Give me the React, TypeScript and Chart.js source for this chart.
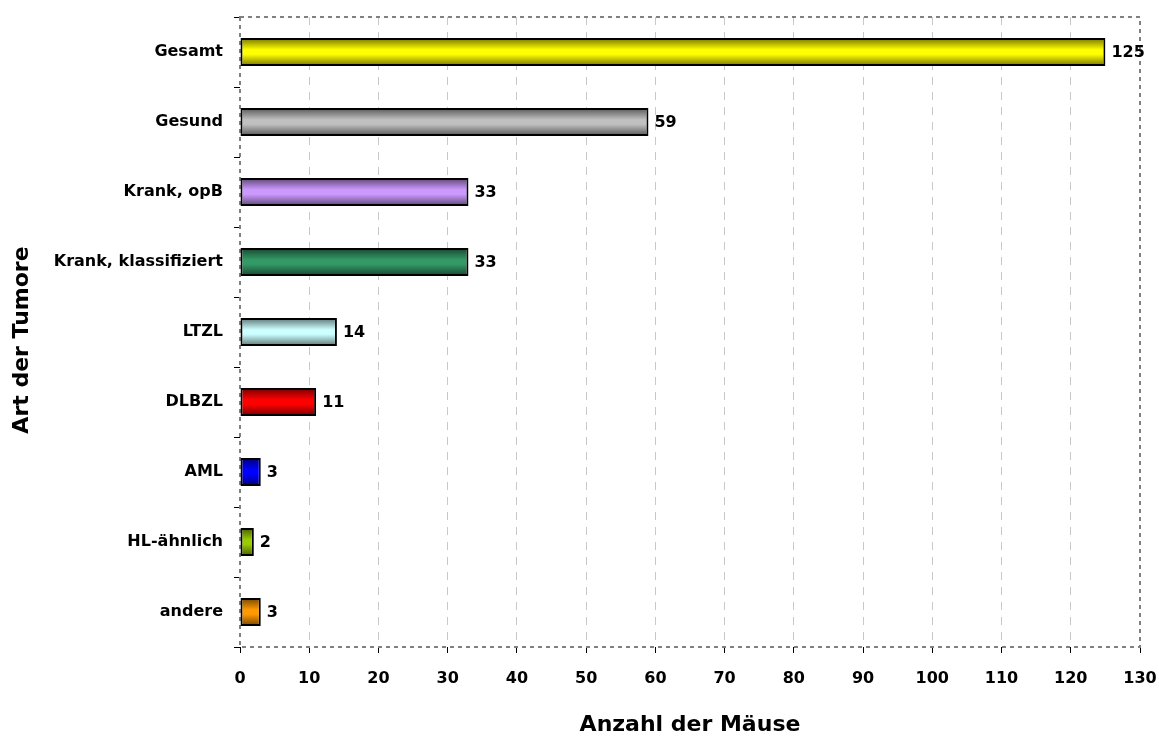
import React, { useEffect, useRef } from "react";
import { Chart, registerables } from "chart.js";

Chart.register(...registerables);

// Tumour categories and mouse counts
const categories: string[] = [
  "Gesamt",
  "Gesund",
  "Krank, opB",
  "Krank, klassifiziert",
  "LTZL",
  "DLBZL",
  "AML",
  "HL-ähnlich",
  "andere",
];
const counts: number[] = [125, 59, 33, 33, 14, 11, 3, 2, 3];
const barColors: string[] = [
  "#FFFF00",
  "#C0C0C0",
  "#CC99FF",
  "#339966",
  "#CCFFFF",
  "#FF0000",
  "#0000FF",
  "#99CC00",
  "#FF9900",
];
const xMin = 0;
const xMax = 130;
const xStep = 10;
const xTitle = "Anzahl der Mäuse";
const yTitle = "Art der Tumore";

const FONT = "'DejaVu Sans', Verdana, sans-serif";
const BAR_PCT = 0.4;

function shade(hex: string, f: number): string {
  const n = parseInt(hex.slice(1), 16);
  const r = Math.round(((n >> 16) & 255) * f);
  const g = Math.round(((n >> 8) & 255) * f);
  const b = Math.round((n & 255) * f);
  return `rgb(${r},${g},${b})`;
}

// Dashed frame around the plotting area
const framePlugin = {
  id: "frame",
  beforeDatasetsDraw(chart: any) {
    const { ctx, chartArea } = chart;
    const { left, top, right, bottom } = chartArea;
    ctx.save();
    ctx.strokeStyle = "#808080";
    ctx.lineWidth = 2;
    ctx.setLineDash([4, 4]);
    ctx.strokeRect(left, top, right - left, bottom - top);
    ctx.restore();
  },
};

// Value labels to the right of each bar, plus the rotated category-axis title
const labelPlugin = {
  id: "valueLabels",
  afterDatasetsDraw(chart: any) {
    const { ctx, chartArea } = chart;
    const meta = chart.getDatasetMeta(0);
    ctx.save();
    ctx.font = `bold 16px ${FONT}`;
    ctx.fillStyle = "#000";
    ctx.textAlign = "left";
    ctx.textBaseline = "middle";
    meta.data.forEach((el: any, i: number) => {
      ctx.fillText(String(counts[i]), el.x + 6, el.y + 1);
    });

    ctx.font = `bold 22px ${FONT}`;
    ctx.textAlign = "center";
    ctx.translate(22, (chartArea.top + chartArea.bottom) / 2 + 8);
    ctx.rotate(-Math.PI / 2);
    ctx.fillText(yTitle, 0, 0);
    ctx.restore();
  },
};

export default function App() {
  const canvasRef = useRef<HTMLCanvasElement | null>(null);

  useEffect(() => {
    const canvas = canvasRef.current;
    if (!canvas) return;

    const chart = new Chart(canvas, {
      type: "bar",
      data: {
        labels: categories,
        datasets: [
          {
            data: counts,
            backgroundColor: (c: any) => {
              const base = barColors[c.dataIndex];
              const yScale = c.chart.scales?.y;
              if (!yScale || c.dataIndex === undefined) return base;
              const center = yScale.getPixelForValue(c.dataIndex);
              const half = ((yScale.height / categories.length) * BAR_PCT) / 2;
              if (!isFinite(center) || !isFinite(half)) return base;
              const g = c.chart.ctx.createLinearGradient(0, center - half, 0, center + half);
              g.addColorStop(0, shade(base, 0.45));
              g.addColorStop(0.42, base);
              g.addColorStop(0.58, base);
              g.addColorStop(1, shade(base, 0.45));
              return g;
            },
            borderColor: "#000",
            borderWidth: 2,
            borderSkipped: false,
            barPercentage: BAR_PCT,
            categoryPercentage: 1,
          },
        ],
      },
      options: {
        indexAxis: "y",
        animation: false,
        responsive: false,
        layout: { padding: { top: 17, right: 19, left: 0, bottom: 0 } },
        plugins: {
          legend: { display: false },
          tooltip: { enabled: false },
        },
        scales: {
          x: {
            min: xMin,
            max: xMax,
            ticks: {
              stepSize: xStep,
              color: "#000",
              padding: 16,
              maxRotation: 0,
              font: { family: FONT, size: 16, weight: "bold" },
            },
            grid: {
              color: (c: any) =>
                c.tick && (c.tick.value === xMin || c.tick.value === xMax)
                  ? "rgba(0,0,0,0)"
                  : "#c8c8c8",
              lineWidth: 1,
              tickColor: "#000",
              tickLength: 6,
              tickWidth: 1,
            },
            border: { display: false, dash: [8, 7] },
            title: {
              display: true,
              text: xTitle,
              color: "#000",
              font: { family: FONT, size: 22, weight: "bold", lineHeight: 1 },
              padding: { top: 0, bottom: 0 },
            },
            afterFit: (scale: any) => {
              scale.height = 89;
              scale.paddingLeft = 0;
              scale.paddingRight = 0;
            },
          },
          y: {
            ticks: {
              color: "#000",
              padding: 11,
              font: { family: FONT, size: 16, weight: "bold" },
            },
            grid: {
              drawOnChartArea: false,
              tickColor: "#000",
              tickLength: 6,
              tickWidth: 1,
            },
            border: { display: false },
            afterFit: (scale: any) => {
              scale.width = 240;
              scale.paddingTop = 0;
              scale.paddingBottom = 0;
            },
          },
        },
      },
      plugins: [framePlugin, labelPlugin],
    });

    return () => chart.destroy();
  }, []);

  return (
    <div
      style={{
        position: "fixed",
        left: 0,
        top: 0,
        width: 1159,
        height: 736,
        background: "#fff",
      }}
    >
      <canvas ref={canvasRef} width={1159} height={736} style={{ width: 1159, height: 736 }} />
    </div>
  );
}
